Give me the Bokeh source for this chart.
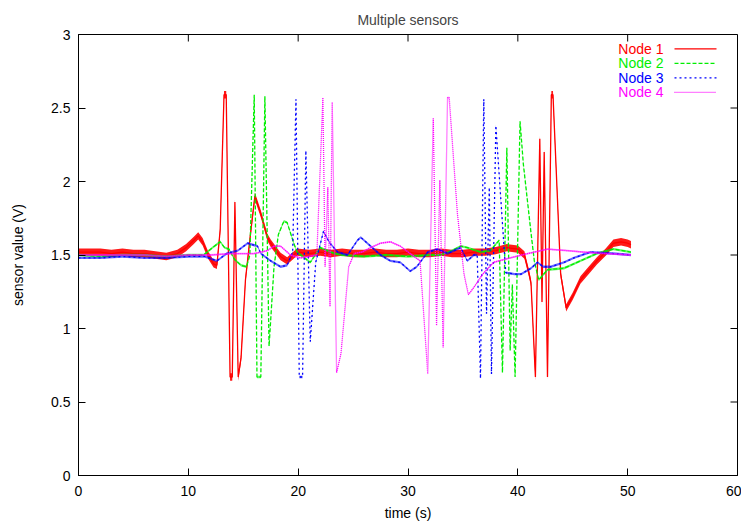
from bokeh.plotting import figure
from bokeh.models import Range1d, FixedTicker, ColumnDataSource, Label
from bokeh.embed import file_html
from bokeh.resources import INLINE

title_text = "Multiple sensors"
x_label = "time (s)"
y_label = "sensor value (V)"
x_ticks = [0, 10, 20, 30, 40, 50, 60]
x_tick_labels = ["0", "10", "20", "30", "40", "50", "60"]
y_ticks = [0, 0.5, 1, 1.5, 2, 2.5, 3]
y_tick_labels = ["0", "0.5", "1", "1.5", "2", "2.5", "3"]
series_names = ["Node 1", "Node 2", "Node 3", "Node 4"]

node1_t = [0, 1, 2, 3, 4, 5, 6, 7, 8, 9, 9.8, 10.5, 10.9, 11.3, 11.8, 12.3, 12.6, 12.9, 13.1, 13.25,
           13.45, 13.8, 14.0, 14.24, 14.54, 14.8, 15.2, 15.7, 16.06, 16.6, 17.2, 17.5, 18.4, 19.0, 19.9,
           21, 22, 23, 24, 25, 26, 27, 28, 29, 30, 31, 32, 33, 34, 35, 36, 37, 38, 39, 40, 40.6, 41.0,
           41.2, 41.6, 42.0, 42.2, 42.4, 42.7, 43.05, 43.2, 43.9, 44.4, 45.0, 45.7, 46.5, 47.2, 48.0,
           48.7, 49.4, 50.0, 50.3]
node1_v = [1.52, 1.52, 1.52, 1.51, 1.52, 1.51, 1.51, 1.50, 1.49, 1.51, 1.55, 1.60, 1.63, 1.59, 1.50,
           1.44, 1.43, 1.67, 2.20, 2.59, 2.59, 0.67, 0.67, 1.86, 0.67, 0.80, 1.33, 1.67, 1.90, 1.78,
           1.62, 1.58, 1.49, 1.46, 1.52, 1.51, 1.52, 1.51, 1.52, 1.51, 1.51, 1.52, 1.51, 1.51, 1.52,
           1.51, 1.51, 1.52, 1.51, 1.51, 1.52, 1.52, 1.53, 1.55, 1.54, 1.50, 1.38, 1.31, 0.67, 2.29,
           1.18, 2.20, 0.67, 2.59, 2.59, 1.37, 1.14, 1.22, 1.33, 1.40, 1.46, 1.52, 1.58, 1.59, 1.58, 1.57]

node2_t = [0, 2, 4, 6, 8, 10, 11.4, 12.2, 12.9, 13.3, 13.7, 14.2, 14.8, 15.3, 15.6, 16.0, 16.25, 16.6,
           16.97, 17.35, 17.8, 18.2, 18.7, 19.0, 19.6, 19.9, 21.1, 22.0, 23.3, 24, 26, 28, 30, 32, 33,
           34.0, 34.8, 35.4, 36.6, 37.5, 38.3, 38.6, 39.0, 39.3, 39.5, 39.75, 40.2, 40.5, 41.2, 41.5,
           41.9, 42.7, 44.2, 45.7, 47.2, 48.7, 50.3]
node2_v = [1.50, 1.49, 1.50, 1.50, 1.49, 1.50, 1.50, 1.55, 1.59, 1.55, 1.54, 1.47, 1.43, 1.42, 1.50,
           2.59, 0.67, 0.67, 2.58, 0.88, 1.42, 1.64, 1.73, 1.72, 1.58, 1.52, 1.45, 1.55, 1.51, 1.50,
           1.49, 1.50, 1.49, 1.50, 1.50, 1.53, 1.56, 1.55, 1.52, 1.53, 1.60, 0.70, 2.23, 0.85, 1.30,
           0.67, 2.41, 2.12, 1.65, 1.46, 1.33, 1.40, 1.41, 1.46, 1.51, 1.54, 1.52]

node3_t = [0, 2, 4, 6, 8, 10, 11.5, 12.6, 13.5, 14.5, 15.4, 16.3, 16.6, 17.5, 18.4, 19.0, 19.5, 19.8,
           20.1, 20.4, 20.7, 21.1, 21.6, 22.3, 22.9, 23.6, 24.5, 25.4, 25.7, 26.3, 27.5, 28.4, 29.3,
           30.2, 30.8, 31.8, 32.7, 33.6, 34.8, 35.4, 36.0, 36.3, 36.6, 36.9, 37.15, 37.4, 37.6, 38.0,
           38.9, 39.7, 40.3, 41.2, 41.8, 42.3, 43.0, 44.2, 45.1, 46.6, 48.7, 50.3]
node3_v = [1.48, 1.48, 1.49, 1.48, 1.48, 1.49, 1.49, 1.46, 1.51, 1.53, 1.58, 1.56, 1.51, 1.46, 1.42,
           1.43, 1.52, 2.56, 0.67, 0.67, 2.21, 0.91, 1.45, 1.66, 1.58, 1.52, 1.50, 1.60, 1.62, 1.58,
           1.50, 1.46, 1.45, 1.39, 1.42, 1.52, 1.54, 1.51, 1.55, 1.46, 1.50, 1.50, 0.66, 2.56, 1.10,
           1.96, 0.69, 2.38, 1.38, 1.37, 1.37, 1.41, 1.45, 1.42, 1.42, 1.45, 1.48, 1.52, 1.51, 1.50]

node4_t = [0, 2, 4, 6, 8, 10, 12, 14, 16, 17.2, 17.8, 18.4, 19.3, 20.2, 21.0, 21.7, 22.25, 22.45, 22.7,
           22.9, 23.1, 23.5, 23.9, 24.6, 25.1, 25.8, 26.6, 27.5, 28.4, 29.3, 30.2, 31.1, 31.8, 32.3,
           32.6, 32.9, 33.2, 33.6, 33.75, 34.5, 35.1, 35.5, 36.0, 36.8, 37.8, 39.3, 40.9, 42.7, 44.5,
           46.0, 48.0, 50.3]
node4_v = [1.50, 1.50, 1.50, 1.50, 1.49, 1.50, 1.50, 1.51, 1.51, 1.53, 1.56, 1.56, 1.50, 1.48, 1.49,
           1.50, 2.57, 1.42, 1.96, 1.15, 2.54, 0.70, 0.83, 1.42, 1.51, 1.52, 1.55, 1.58, 1.59, 1.56,
           1.51, 1.46, 0.69, 2.43, 1.02, 2.01, 0.87, 2.57, 2.57, 1.78, 1.37, 1.23, 1.28, 1.37, 1.45,
           1.48, 1.51, 1.54, 1.53, 1.52, 1.51, 1.50]

colors = ["#ff0000", "#00ee00", "#0000ff", "#ff00ff"]
dashes = ["solid", "4 2", "2 3", "1 1"]
noise_half = [0.025, 0.008, 0.008, 0.006]
noise_alpha = [0.9, 0.6, 0.6, 0.5]
FONT = "Liberation Sans"

X0, X1, Y0, Y1 = 0, 60, 0, 3
FRAME_W, FRAME_H = 659, 441
p = figure(width=741, height=523, x_range=Range1d(X0, X1), y_range=Range1d(Y0, Y1),
           output_backend="svg", toolbar_location=None,
           min_border_left=78, min_border_right=4, min_border_top=34, min_border_bottom=48)

p.title.text = title_text
p.title.align = "center"
p.title.vertical_align = "top"
p.title.text_font = FONT
p.title.text_font_size = "14px"
p.title.text_font_style = "normal"

p.xgrid.visible = False
p.ygrid.visible = False
p.outline_line_color = "black"
p.outline_line_width = 1
p.outline_line_alpha = 1

def style_axis(ax, ticks, labels):
    ax.ticker = FixedTicker(ticks=ticks)
    ax.major_label_overrides = {t: l for t, l in zip(ticks, labels)}
    ax.major_tick_in = 7
    ax.major_tick_out = 0
    ax.minor_tick_line_color = None
    ax.axis_line_color = "black"
    ax.major_tick_line_color = "black"
    ax.major_label_text_font = FONT
    ax.major_label_text_font_size = "14px"
    ax.major_label_text_color = "black"
    ax.axis_label_text_font = FONT
    ax.axis_label_text_font_size = "14px"
    ax.axis_label_text_font_style = "normal"
    ax.axis_label_text_color = "black"

style_axis(p.xaxis[0], x_ticks, x_tick_labels)
style_axis(p.yaxis[0], y_ticks, y_tick_labels)
p.xaxis[0].axis_label = x_label
p.yaxis[0].axis_label = y_label
p.xaxis[0].major_label_standoff = 10
p.xaxis[0].axis_label_standoff = 6
p.yaxis[0].major_label_standoff = 8
p.yaxis[0].axis_label_standoff = 22

px_x = (X1 - X0) / FRAME_W
px_y = (Y1 - Y0) / FRAME_H

# mirrored inward ticks on top and right edges (gnuplot style)
tick_len_px = 7
tx = tick_len_px * px_x
ty = tick_len_px * px_y
p.segment(x0=x_ticks, y0=[Y1] * len(x_ticks), x1=x_ticks, y1=[Y1 - ty] * len(x_ticks),
          line_color="black", line_width=1)
p.segment(x0=[X1] * len(y_ticks), y0=y_ticks, x1=[X1 - tx] * len(y_ticks), y1=y_ticks,
          line_color="black", line_width=1)

series = [(node1_t, node1_v), (node2_t, node2_v), (node3_t, node3_v), (node4_t, node4_v)]
for (ts, vs), c, d, w, a in zip(series, colors, dashes, noise_half, noise_alpha):
    src = ColumnDataSource(dict(t=ts, v=vs, lo=[v - w for v in vs], hi=[v + w for v in vs]))
    p.varea(x="t", y1="lo", y2="hi", source=src, fill_color=c, fill_alpha=a)
    p.line(x="t", y="v", source=src, line_color=c, line_width=1.3, line_dash=d)

# gnuplot-style key: text right-aligned, sample line to its right
key_text_x = X0 + (663 - 78) * px_x
key_line_x0 = X0 + (674 - 78) * px_x
key_line_x1 = X0 + (716 - 78) * px_x
key_row0 = Y1 - (48.3 - 34) * px_y
key_step = 14.5 * px_y
for i, (n, c, d) in enumerate(zip(series_names, colors, dashes)):
    yy = key_row0 - i * key_step
    p.add_layout(Label(x=key_text_x, y=yy, text=n, text_align="right",
                       text_baseline="middle", text_color=c, text_font=FONT,
                       text_font_size="14px"))
    p.segment(x0=[key_line_x0], y0=[yy], x1=[key_line_x1], y1=[yy],
              line_color=c, line_width=1.3, line_dash=d)

open("out.html", "w").write(file_html(p, INLINE))
